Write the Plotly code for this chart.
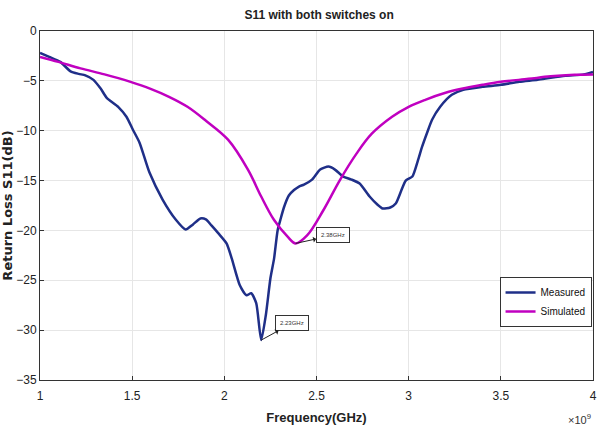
import plotly.graph_objects as go

meas_f = [1.0, 1.05, 1.11, 1.166, 1.21, 1.246, 1.29, 1.33, 1.362, 1.424, 1.469, 1.504, 1.54, 1.594,
          1.665, 1.736, 1.79, 1.83, 1.87, 1.9, 1.93, 1.968, 2.012, 2.04, 2.084, 2.12, 2.146, 2.173,
          2.2, 2.225, 2.25, 2.27, 2.289, 2.306, 2.325, 2.35, 2.378, 2.405, 2.432, 2.476, 2.52, 2.565,
          2.6, 2.645, 2.69, 2.734, 2.788, 2.83, 2.859, 2.9, 2.93, 2.96, 2.984, 3.02, 3.05, 3.073,
          3.1, 3.127, 3.171, 3.234, 3.296, 3.4, 3.5, 3.6, 3.7, 3.77, 3.85, 3.95, 4.0]
meas_db = [-2.2, -2.6, -3.1, -4.05, -4.3, -4.45, -4.9, -5.8, -6.7, -7.6, -8.6, -9.9, -11.2, -14.2,
           -16.9, -18.9, -19.9, -19.4, -18.8, -18.9, -19.5, -20.3, -21.3, -22.8, -25.5, -26.5, -26.3, -27.3,
           -31.0, -28.5, -24.8, -22.8, -20.0, -18.8, -17.6, -16.5, -15.95, -15.6, -15.4, -14.9, -13.9, -13.6,
           -13.9, -14.6, -14.9, -15.3, -16.6, -17.4, -17.8, -17.7, -17.3, -16.0, -15.0, -14.6, -13.0, -11.6,
           -10.2, -8.9, -7.6, -6.4, -5.9, -5.6, -5.4, -5.1, -4.9, -4.7, -4.5, -4.35, -4.1]

sim_f = [1.0, 1.1, 1.22, 1.35, 1.487, 1.6, 1.7, 1.8, 1.9, 2.02, 2.128, 2.2, 2.27, 2.342, 2.387,
         2.449, 2.538, 2.627, 2.717, 2.8, 2.91, 3.0, 3.09, 3.2, 3.287, 3.4, 3.5, 3.65, 3.77, 3.9, 4.0]
sim_db = [-2.6, -3.1, -3.75, -4.35, -5.08, -5.8, -6.6, -7.6, -9.0, -10.9, -13.9, -16.6, -18.96, -20.6, -21.3,
          -20.5, -17.95, -14.95, -12.3, -10.3, -8.6, -7.6, -6.9, -6.2, -5.8, -5.4, -5.1, -4.8, -4.55, -4.4, -4.35]

x_ticks = [1, 1.5, 2, 2.5, 3, 3.5, 4]
x_labels = ["1", "1.5", "2", "2.5", "3", "3.5", "4"]
y_ticks = [0, -5, -10, -15, -20, -25, -30, -35]

markers = [(2.2, -31.0, "2.23GHz", 31, -17), (2.387, -21.3, "2.38GHz", 37, -8)]

NARROW = "Liberation Sans Narrow, Arial Narrow, Liberation Sans, Arial"

fig = go.Figure()
fig.add_trace(go.Scatter(x=meas_f, y=meas_db, mode="lines", name="Measured",
                         line=dict(color="#1f2f88", width=2.5, shape="spline", smoothing=0.6)))
fig.add_trace(go.Scatter(x=sim_f, y=sim_db, mode="lines", name="Simulated",
                         line=dict(color="#c000c0", width=2.5, shape="spline", smoothing=1.0)))

for fx, fy, txt, ax, ay in markers:
    fig.add_annotation(x=fx, y=fy, text=txt, showarrow=True, arrowhead=2, arrowside="start",
                       arrowsize=1, arrowwidth=1, arrowcolor="#222222", ax=ax, ay=ay,
                       font=dict(size=6, color="#333333", family="Liberation Sans"),
                       bgcolor="white", bordercolor="#333333", borderwidth=1, borderpad=4)

fig.add_annotation(xref="paper", yref="paper", x=1.0, y=-0.085, xanchor="right", yanchor="top",
                   text="×10<sup>9</sup>", showarrow=False,
                   font=dict(size=11, color="#333333", family=NARROW))

fig.update_layout(
    width=602, height=430,
    margin=dict(l=39, r=5, t=31, b=50),
    paper_bgcolor="white", plot_bgcolor="white",
    title=dict(text="<b>S11 with both switches on</b>", x=0.53, xanchor="center", y=0.975, yanchor="top",
               font=dict(size=12, color="#222222", family=NARROW)),
    xaxis=dict(range=[1, 4], tickvals=x_ticks, ticktext=x_labels, showgrid=True, gridcolor="#e6e6e6",
               showline=True, linecolor="#333333", linewidth=1, mirror=True, ticks="inside", ticklen=4,
               tickcolor="#333333", zeroline=False, ticklabelstandoff=5,
               tickfont=dict(size=12, color="#222222", family=NARROW),
               title=dict(text="<b>Frequency(GHz)</b>", standoff=10,
                          font=dict(size=13, color="#222222", family=NARROW))),
    yaxis=dict(range=[-35, 0], tickvals=y_ticks, showgrid=True, gridcolor="#e6e6e6",
               showline=True, linecolor="#333333", linewidth=1, mirror=True, ticks="inside", ticklen=4,
               tickcolor="#333333", zeroline=False,
               tickfont=dict(size=12, color="#222222", family=NARROW),
               title=dict(text="<b>Return Loss S11(dB)</b>", standoff=2,
                          font=dict(size=13, color="#222222", family="DejaVu Sans, Liberation Sans"))),
    legend=dict(x=0.831, y=0.295, xanchor="left", yanchor="top", bgcolor="white",
                bordercolor="#333333", borderwidth=1, tracegroupgap=0, itemwidth=30,
                font=dict(size=10, color="#111111", family=NARROW)),
    showlegend=True,
)

fig.write_html("out.html")
